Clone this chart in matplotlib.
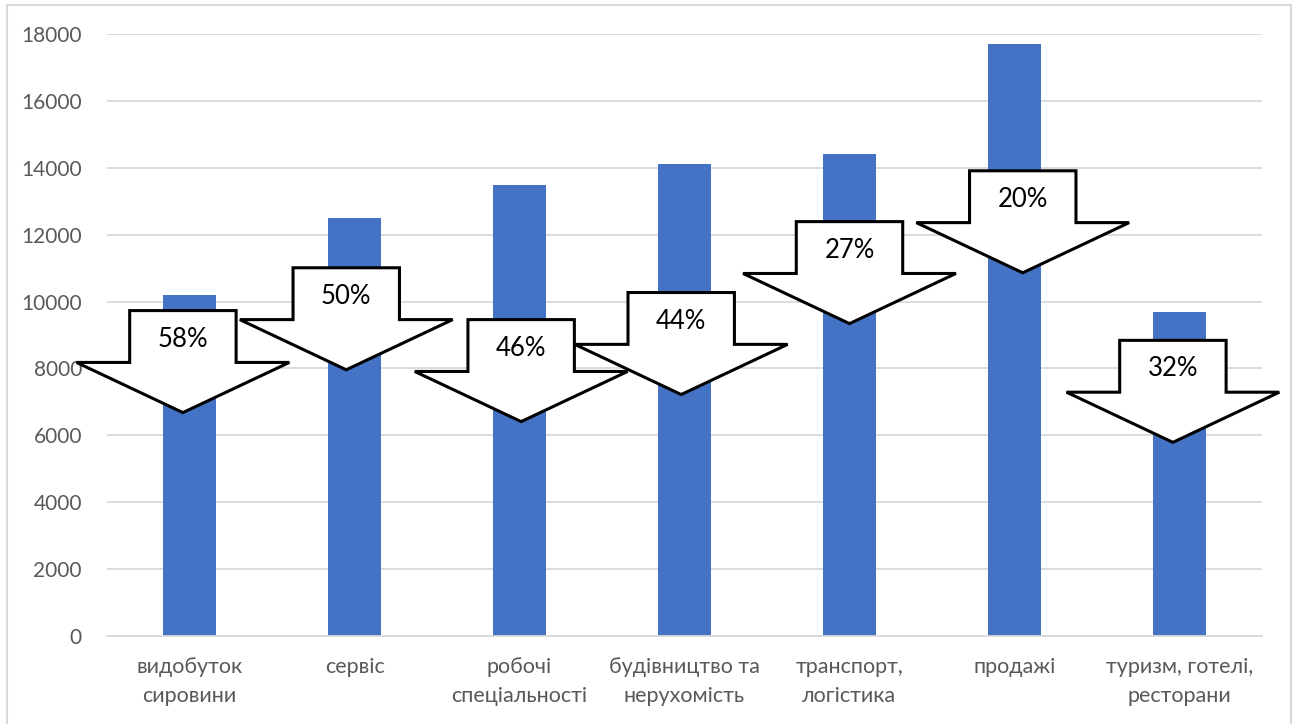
import matplotlib
matplotlib.use("Agg")
import matplotlib.pyplot as plt
from matplotlib.patches import Polygon
from matplotlib.lines import Line2D

plt.rcParams['font.family'] = ['Lato', 'DejaVu Sans']

# Data
categories = ["видобуток\nсировини", "сервіс", "робочі\nспеціальності",
              "будівництво та\nнерухомість", "транспорт,\nлогістика",
              "продажі", "туризм, готелі,\nресторани"]
values = [10200, 12500, 13500, 14100, 14400, 17700, 9700]
shares = ["58%", "50%", "46%", "44%", "27%", "20%", "32%"]

# Arrow callouts: top edge (data units) and horizontal shift from bar centre
arrow_top = [9730, 11010, 9460, 10270, 12390, 13910, 8840]
arrow_shift = [-0.04, -0.05, 0.01, -0.02, 0.0, 0.05, -0.04]

BAR_COLOR = "#4472C4"
GRID_COLOR = "#D9D9D9"
TEXT_COLOR = "#595959"

W, H = 1298, 724
fig = plt.figure(figsize=(W / 100, H / 100), dpi=100)
ax = fig.add_axes([107 / W, 1 - 636 / H, (1262 - 107) / W, (636 - 34) / H])

x = list(range(len(categories)))
ax.bar(x, values, width=0.32, color=BAR_COLOR, zorder=2)

ax.set_xlim(-0.5, len(categories) - 0.5)
ax.set_ylim(0, 18000)
ax.set_yticks(range(0, 18001, 2000))
ax.yaxis.grid(True, color=GRID_COLOR, linewidth=1.3, zorder=0)
ax.set_axisbelow(True)
for side in ("left", "right", "top"):
    ax.spines[side].set_visible(False)
ax.spines["bottom"].set_color(GRID_COLOR)
ax.spines["bottom"].set_linewidth(1.3)
ax.tick_params(axis="y", length=0, colors=TEXT_COLOR, labelsize=15, pad=18)
ax.tick_params(axis="x", length=0, colors=TEXT_COLOR, labelsize=15.5, pad=15)
ax.set_xticks(x)
ax.set_xticklabels(categories, linespacing=1.6)

# Down-arrow callouts
body_w = 0.645
wing_w = 1.29
body_h = 1550
head_h = 1500
for i, (top, dx, label) in enumerate(zip(arrow_top, arrow_shift, shares)):
    cx = i + dx
    shoulder = top - body_h
    tip = shoulder - head_h
    pts = [
        (cx - body_w / 2, top), (cx + body_w / 2, top),
        (cx + body_w / 2, shoulder), (cx + wing_w / 2, shoulder),
        (cx, tip),
        (cx - wing_w / 2, shoulder), (cx - body_w / 2, shoulder),
    ]
    ax.add_patch(Polygon(pts, closed=True, facecolor="white", edgecolor="black",
                         linewidth=2.2, joinstyle="miter", zorder=5, clip_on=False))
    ax.text(cx, top - body_h * 0.55, label, ha="center", va="center",
            fontsize=18.5, color="black", zorder=6)

# Chart area border
for xs, ys in [((7 / W, 7 / W), (0, 1 - 5 / H)),
               ((7 / W, 1291 / W), (1 - 5 / H, 1 - 5 / H)),
               ((1291 / W, 1291 / W), (1 - 5 / H, 0))]:
    fig.add_artist(Line2D(xs, ys, color=GRID_COLOR, linewidth=1.5))

fig.savefig("out.png", dpi=100, facecolor="white")
